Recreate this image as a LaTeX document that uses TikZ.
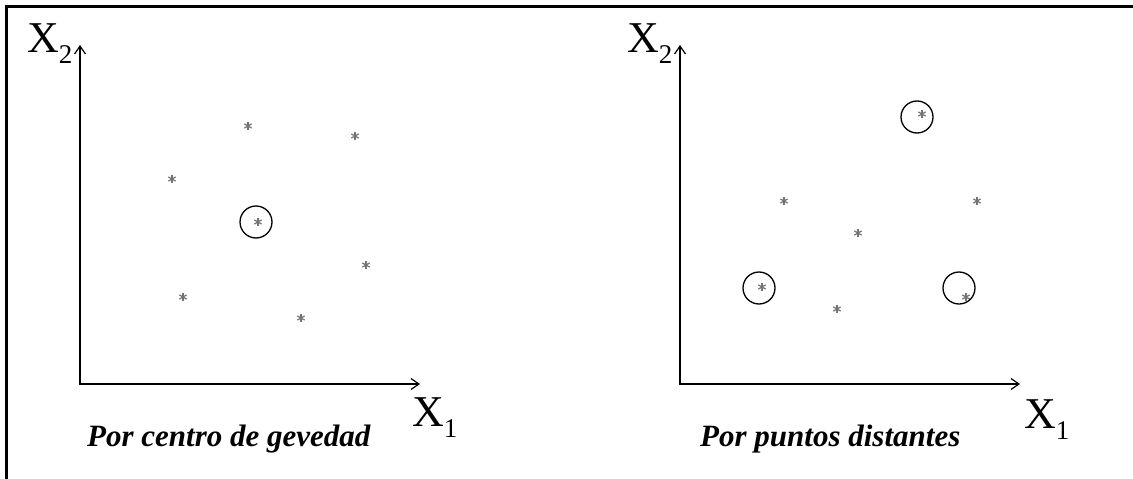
\documentclass[tikz,border=0pt]{standalone}
\usepackage{fontspec}
\setmainfont{Liberation Serif}
\usetikzlibrary{arrows.meta, calc}

\newcommand\axsub[1]{\raisebox{-11pt}{\fontsize{27}{27}\selectfont #1}}

\begin{document}
\begin{tikzpicture}[
  x=1pt, y=-1pt,
  axis/.style={line width=1.8pt,
    {Straight Barb[length=8pt,width=11pt,line width=1.2pt]}-{Straight Barb[length=8pt,width=11pt,line width=1.2pt]}},
  ring/.style={draw, circle, line width=1.3pt, minimum size=32pt, inner sep=0pt},
  pt/.style={circle, inner sep=0pt, minimum size=10pt, path picture={
      \foreach \a in {30,90,150}
        \draw[black!55, line width=1.2pt]
          ($(path picture bounding box.center)+(\a:4.2pt)$) --
          ($(path picture bounding box.center)+(\a+180:4.2pt)$);}},
  axlbl/.style={inner sep=0pt, anchor=base west, font=\fontsize{44}{44}\selectfont},
  capt/.style={inner sep=0pt, anchor=base west, font=\fontsize{31}{31}\selectfont\bfseries\itshape},
]
  \useasboundingbox (0,0) rectangle (1133,479);
  \draw[line width=3pt] (6.5,479) -- (6.5,6.5) -- (1133,6.5);

  % left panel
  \coordinate (o1) at (80,384);
  \coordinate (yt1) at (80,45);
  \coordinate (xt1) at (420,384);
  \draw[axis] (yt1) -- (o1) -- (xt1);
  \node[axlbl] (x2l) at (27,52) {X\axsub{2}};
  \node[axlbl] (x1l) at (412,426) {X\axsub{1}};
  \node[capt] (cap1) at (87,446) {Por centro de gevedad};

  \node[pt] (p1) at (248,126) {};
  \node[pt] (p2) at (355,136) {};
  \node[pt] (p3) at (172,179) {};
  \node[pt] (p4) at (258,222) {};
  \node[pt] (p5) at (366,265) {};
  \node[pt] (p6) at (183,297) {};
  \node[pt] (p7) at (301,318) {};
  \node[ring] (c1) at (256,222) {};

  % right panel
  \coordinate (o2) at (680,384);
  \coordinate (yt2) at (680,45);
  \coordinate (xt2) at (1020,384);
  \draw[axis] (yt2) -- (o2) -- (xt2);
  \node[axlbl] (x2r) at (627,52) {X\axsub{2}};
  \node[axlbl] (x1r) at (1024,428) {X\axsub{1}};
  \node[capt] (cap2) at (700,446) {Por puntos distantes};

  \node[pt] (q1) at (922,114) {};
  \node[pt] (q2) at (784,201) {};
  \node[pt] (q3) at (977,201) {};
  \node[pt] (q4) at (858,233) {};
  \node[pt] (q5) at (762,287) {};
  \node[pt] (q6) at (837,309) {};
  \node[pt] (q7) at (966,297) {};
  \node[ring] (c2) at (917,117) {};
  \node[ring] (c3) at (759,288) {};
  \node[ring] (c4) at (959,288) {};
\end{tikzpicture}
\end{document}
